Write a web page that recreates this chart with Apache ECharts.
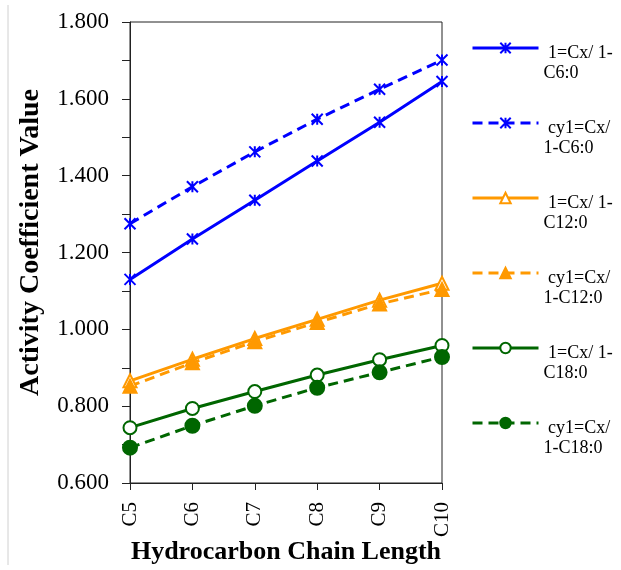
<!DOCTYPE html>
<html>
<head>
    <meta charset="utf-8" />
    <style>
        html, body { margin: 0; padding: 0; background: #fff; }
        #chart { width: 621px; height: 570px; }
    </style>
    <script src="https://cdn.jsdelivr.net/npm/echarts@6/dist/echarts.min.js"></script>
</head>
<body>
    <div id="chart"></div>
    <script type="text/javascript">
        // categories and series values
        var chains = ['C5', 'C6', 'C7', 'C8', 'C9', 'C10'];
        var c6Solid = [1.130, 1.235, 1.336, 1.438, 1.539, 1.645];
        var c6Dash = [1.275, 1.371, 1.462, 1.547, 1.625, 1.701];
        var c12Solid = [0.866, 0.922, 0.976, 1.026, 1.076, 1.120];
        var c12Dash = [0.852, 0.913, 0.968, 1.018, 1.066, 1.104];
        var c18Solid = [0.744, 0.794, 0.838, 0.881, 0.921, 0.958];
        var c18Dash = [0.692, 0.749, 0.801, 0.848, 0.888, 0.928];
        var names = [' 1=Cx/ 1-\nC6:0', ' cy1=Cx/\n1-C6:0', ' 1=Cx/ 1-\nC12:0',
            ' cy1=Cx/\n1-C12:0', ' 1=Cx/ 1-\nC18:0', ' cy1=Cx/\n1-C18:0'];

        var serif = 'Liberation Serif';
        var blue = '#0000ff', orange = '#ff9900', green = '#006600';
        // asterisk-like marker (x plus vertical bar)
        var starMark = 'path://M0,0L10,10M10,0L0,10M5,0L5,10';

        function makeSeries(name, data, color, dashed, symbol, size, filled) {
            return {
                name: name,
                type: 'line',
                data: data,
                symbol: symbol,
                symbolSize: size,
                lineStyle: { color: color, width: 3, type: dashed ? [10, 6] : 'solid' },
                itemStyle: {
                    color: filled ? color : '#fff',
                    borderColor: color,
                    borderWidth: 2
                }
            };
        }

        var chart = echarts.init(document.getElementById('chart'));
        var option = {
            animation: false,
            backgroundColor: '#fff',
            graphic: [{
                type: 'line',
                shape: { x1: 8, y1: 5, x2: 8, y2: 565 },
                style: { stroke: '#d0d0d0', lineWidth: 1 }
            }],
            grid: {
                left: 130, right: 179, top: 22, bottom: 87,
                outerBoundsMode: 'none',
                containLabel: false,
                show: true, borderColor: '#222', borderWidth: 1
            },
            legend: {
                orient: 'vertical',
                left: 471,
                top: 13,
                padding: 0,
                itemGap: 5,
                itemWidth: 66,
                itemHeight: 13,
                data: names,
                lineStyle: { width: 3 },
                // empty first line pushes the label so the icon sits by its first line
                formatter: function (n) { return '{pad| }\n' + n; },
                textStyle: {
                    fontFamily: serif, fontSize: 18, lineHeight: 20, color: '#000',
                    rich: { pad: { fontSize: 1, lineHeight: 30, height: 30 } }
                }
            },
            xAxis: {
                type: 'category',
                data: chains,
                boundaryGap: false,
                name: 'Hydrocarbon Chain Length',
                nameLocation: 'middle',
                nameGap: 56,
                nameMoveOverlap: false,
                nameTextStyle: { fontFamily: serif, fontSize: 26, fontWeight: 'bold', color: '#000' },
                axisLine: { lineStyle: { color: '#222', width: 1 } },
                axisTick: { show: true, length: 7, lineStyle: { color: '#222' } },
                axisLabel: { rotate: 90, margin: 19, fontFamily: serif, fontSize: 21, color: '#000' },
                splitLine: { show: false }
            },
            yAxis: {
                type: 'value',
                min: 0.6,
                max: 1.8,
                interval: 0.2,
                name: 'Activity Coefficient Value',
                nameLocation: 'middle',
                nameGap: 85,
                nameMoveOverlap: false,
                nameTextStyle: {
                    fontFamily: serif, fontSize: 28, fontWeight: 'bold', color: '#000',
                    padding: [0, 0, 0, 20]
                },
                axisLine: { show: true, lineStyle: { color: '#222', width: 1 } },
                axisTick: { show: true, length: 8, lineStyle: { color: '#222' } },
                minorTick: { show: true, splitNumber: 2, length: 8, lineStyle: { color: '#222' } },
                axisLabel: {
                    margin: 21, fontFamily: serif, fontSize: 23, color: '#000',
                    formatter: function (v) { return v.toFixed(3); }
                },
                splitLine: { show: false }
            },
            series: [
                makeSeries(names[0], c6Solid, blue, false, starMark, 11, false),
                makeSeries(names[1], c6Dash, blue, true, starMark, 11, false),
                makeSeries(names[2], c12Solid, orange, false, 'triangle', 13, false),
                makeSeries(names[3], c12Dash, orange, true, 'triangle', 13, true),
                makeSeries(names[4], c18Solid, green, false, 'circle', 13, false),
                makeSeries(names[5], c18Dash, green, true, 'circle', 14, true)
            ]
        };
        chart.setOption(option);
    </script>
</body>
</html>
